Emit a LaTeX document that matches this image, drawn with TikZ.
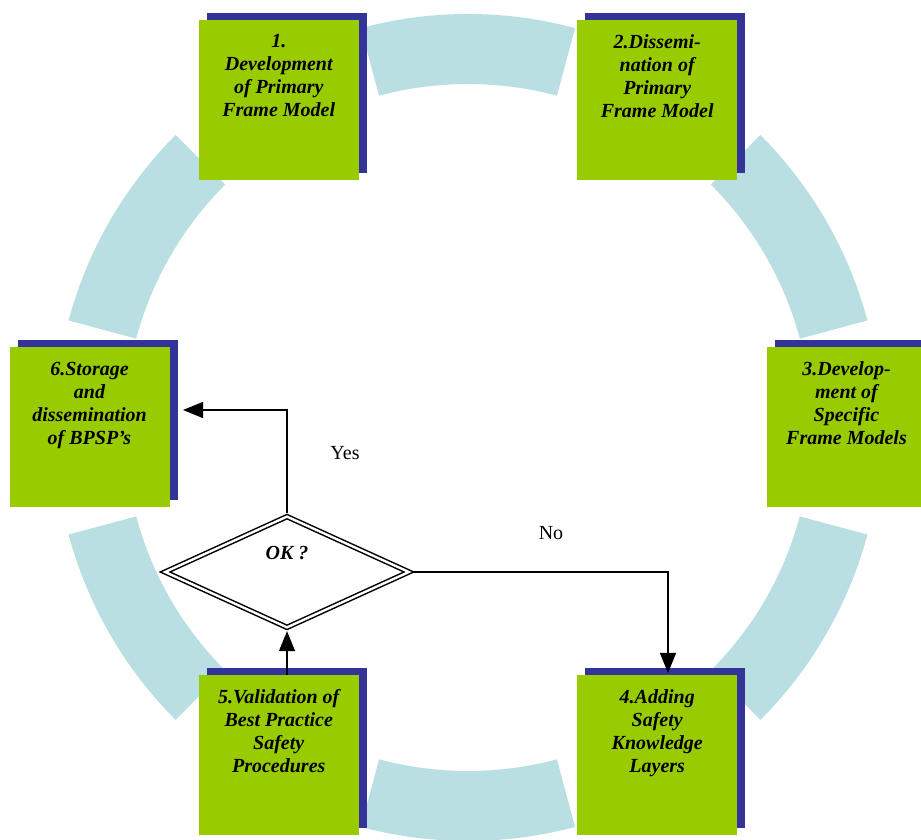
\documentclass[tikz,border=0pt]{standalone}
\usepackage{fontspec}
\setmainfont{Liberation Serif}
\usepackage{xcolor}
\usetikzlibrary{shapes.geometric, arrows.meta, shadows, calc, positioning}
\definecolor{verde}{HTML}{99CC00}
\definecolor{blu}{HTML}{333399}
\definecolor{azzurro}{HTML}{BADFE3}
\tikzset{
  scatola/.style = {rectangle, fill = verde, minimum size = 160pt, inner sep = 0pt,
    drop shadow = {opacity = 1, fill = blu, shadow xshift = 8pt, shadow yshift = 7pt}},
  testo/.style = {inner sep = 0pt, align = center, font = \fontsize{20}{23}\selectfont\bfseries\itshape},
  decisione/.style = {diamond, draw, double, double distance = 2.4pt, line width = 1.5pt,
    minimum width = 246pt, minimum height = 113pt, inner sep = 0pt, outer sep = 2.7pt},
  freccia/.style = {draw, line width = 1.3pt, -{Triangle[length = 20pt, width = 16pt]}},
  etichetta/.style = {inner sep = 0pt, font = \fontsize{20}{23}\selectfont}
}

\begin{document}
\begin{tikzpicture}[x = 1pt, y = 1pt]
    % Parametri
    \pgfmathsetmacro{\rout}{413.5}
    \pgfmathsetmacro{\rin}{343.5}
    \pgfmathsetmacro{\rmid}{378.5}
    \useasboundingbox (0,0) rectangle (921,840);
    \coordinate (C) at (468,412.5);
    % Anello
    \foreach \a in {90,30,-30,-90,-150,150} {
        \fill[azzurro] ($(C)+(\a-15:\rout)$) arc[start angle = \a-15, end angle = \a+15, radius = \rout]
            -- ($(C)+(\a+15:\rin)$) arc[start angle = \a+15, end angle = \a-15, radius = \rin] -- cycle;
    }
    % Riquadri
    \foreach \ang/\nome/\txt in {
        120/b1/{1.\\Development\\of Primary\\Frame Model},
        60/b2/{2.Dissemi-\\nation of\\Primary\\Frame Model},
        0/b3/{3.Develop-\\ment of\\Specific\\Frame Models},
        -60/b4/{4.Adding\\Safety\\Knowledge\\Layers},
        -120/b5/{5.Validation of\\Best Practice\\Safety\\Procedures},
        180/b6/{6.Storage\\and\\dissemination\\of BPSP’s}} {
        \node[scatola] (\nome) at ($(C)+(\ang:\rmid)$) {};
        \node[testo, below = 14.5pt of \nome.north] (\nome-testo) {\txt};
    }
    % Decisione
    \node[decisione] (ok) at (287,268) {};
    \node[testo, anchor = base] (ok-testo) at ([yshift = 12pt]ok.center) {OK ?};
    % Frecce
    \coordinate (fine-si) at (183,430);
    \coordinate (fine-no) at (668,167);
    \draw[freccia] (ok.north) |- (fine-si);
    \draw[freccia] (ok.east) -| (fine-no);
    \draw[freccia] (ok.south |- b5.north) -- (ok.south);
    \node[etichetta] (si) at (345,387) {Yes};
    \node[etichetta] (no) at (551,307) {No};
\end{tikzpicture}
\end{document}
